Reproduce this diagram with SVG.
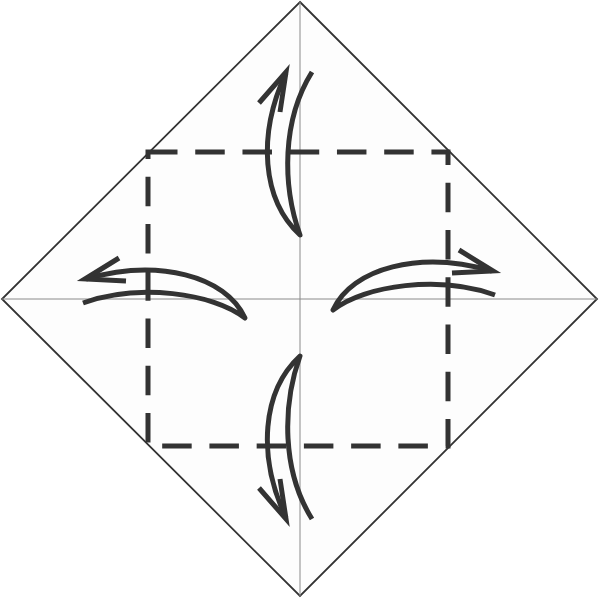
<svg xmlns="http://www.w3.org/2000/svg" width="599" height="599" viewBox="0 0 599 599">
<style>
.paper{fill:#fdfdfd;stroke:#333;stroke-width:1.8;stroke-linejoin:miter}
.crease{stroke:#8a8a8a;stroke-width:1;fill:none}
.dash{fill:none;stroke:#333;stroke-width:5;stroke-dasharray:29.5 17.74;stroke-linejoin:miter}
.body{fill:none;stroke:#333;stroke-width:5;stroke-linejoin:round;stroke-linecap:butt}
.head{fill:none;stroke:#333;stroke-width:5;stroke-linejoin:miter;stroke-miterlimit:6;stroke-linecap:butt}
</style>
<rect width="599" height="599" fill="#ffffff"/>
<g id="paper">
<polygon class="paper" points="300,2 597,299 300,596 2,299"/>
</g>
<g id="creases">
<line class="crease" x1="300" y1="2" x2="300" y2="596"/>
<line class="crease" x1="2" y1="299" x2="597" y2="299"/>
</g>
<g id="fold-square">
<path class="dash" d="M148,152 H448 V446 H148 Z"/>
</g>
<g id="connectors">
<g id="arrow-top">
<path class="body" d="M312,72 C282,120 282,185 300,235 C262,200 257,135 286,73"/>
<path class="head" d="M259,103 L286,72 L280,112"/>
</g>
<g id="arrow-bottom" transform="matrix(1,0,0,-1,0,591)">
<path class="body" d="M312,72 C282,120 282,185 300,235 C262,200 257,135 286,73"/>
<path class="head" d="M259,103 L286,72 L280,112"/>
</g>
<g id="arrow-right">
<path class="body" d="M495,295 C440,275 365,285 333,310 C352,268 420,250 492,271"/>
<path class="head" d="M459,250 L493,271 L452,273"/>
</g>
<g id="arrow-left" transform="matrix(-1,0,0,1,578,8)">
<path class="body" d="M495,295 C440,275 365,285 333,310 C352,268 420,250 492,271"/>
<path class="head" d="M459,250 L493,271 L452,273"/>
</g>
</g>
</svg>
